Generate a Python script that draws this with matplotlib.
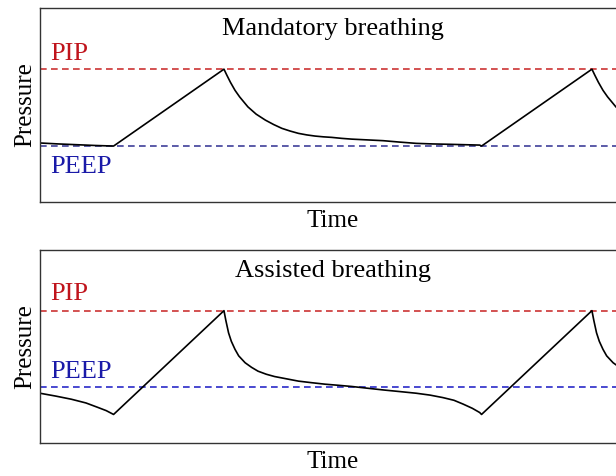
import matplotlib
matplotlib.use("Agg")
import matplotlib.pyplot as plt

plt.rcParams["font.family"] = ["Liberation Serif", "DejaVu Serif"]

# pressure levels
PIP = 25
PEEP = 5

# mandatory breathing waveform (time, pressure)
mand_t = [0.0, 0.2, 0.4, 0.6, 0.8, 2.0, 2.03, 2.07, 2.12, 2.17, 2.26, 2.35,
          2.45, 2.54, 2.63, 2.72, 2.81, 2.9, 2.99, 3.08, 3.17, 3.28, 3.39,
          3.56, 3.73, 3.9, 4.09, 4.27, 4.46, 4.62, 4.78, 4.8,
          6.0, 6.03, 6.07, 6.12, 6.17, 6.26, 6.35, 6.45]
mand_p = [5.8, 5.55, 5.35, 5.15, 5.0, 25.0, 23.5, 21.6, 19.5, 17.8, 15.2, 13.3,
          11.75, 10.6, 9.6, 8.9, 8.3, 7.9, 7.6, 7.4, 7.26, 7.0, 6.8,
          6.6, 6.4, 6.05, 5.7, 5.55, 5.45, 5.35, 5.25, 5.0,
          25.0, 23.5, 21.6, 19.5, 17.8, 15.2, 13.3, 11.75]

# assisted breathing waveform
asst_t = [0.0, 0.17, 0.34, 0.5, 0.63, 0.72, 0.8, 2.0, 2.02, 2.05, 2.08, 2.12,
          2.16, 2.23, 2.30, 2.37, 2.46, 2.55, 2.68, 2.81, 2.95, 3.10, 3.25,
          3.39, 3.56, 3.73, 3.9, 4.09, 4.24, 4.38, 4.50, 4.60, 4.70, 4.78, 4.8,
          6.0, 6.02, 6.05, 6.08, 6.12, 6.16, 6.23, 6.30, 6.37]
asst_p = [3.44, 2.7, 1.88, 0.9, -0.27, -1.1, -2.1, 25.0, 22.5, 19.2, 17.0, 14.9,
          13.2, 11.4, 10.2, 9.2, 8.4, 7.8, 7.2, 6.6, 6.2, 5.8, 5.5,
          5.2, 4.75, 4.3, 3.9, 3.44, 2.95, 2.3, 1.6, 0.6, -0.5, -1.6, -2.1,
          25.0, 22.5, 19.2, 17.0, 14.9, 13.2, 11.4, 10.2, 9.2]

titles = ["Mandatory breathing", "Assisted breathing"]
pip_label_y = [27.3, 27.9]
peep_label_y = [-2.1, 7.5]

fig = plt.figure(figsize=(6.16, 4.76), dpi=100)
ax1 = fig.add_axes([0.0649, 0.5763, 0.9513, 0.4063])
ax2 = fig.add_axes([0.0649, 0.0700, 0.9513, 0.4048])

for i, (ax, t, p) in enumerate([(ax1, mand_t, mand_p), (ax2, asst_t, asst_p)]):
    ax.axhline(PIP, color="#cc3333", lw=1.2, ls=(0, (4, 2.6)))
    ax.axhline(PEEP, color="#2a2ac8" if i else "#40409a", lw=1.2, ls=(0, (4, 2.6)))
    ax.plot(t, p, color="black", lw=1.2, solid_joinstyle="round")
    ax.set_xlim(0, 6.37)
    ax.set_ylim(-9.47, 40.84)
    ax.set_xticks([])
    ax.set_yticks([])
    for s in ax.spines.values():
        s.set_color("#333333")
        s.set_linewidth(1.0)
    ax.text(0.5, 0.892, titles[i], transform=ax.transAxes, ha="center",
            va="center", fontsize=19)
    ax.text(0.11, pip_label_y[i], "PIP", color="#c0141c", fontsize=19,
            va="baseline")
    ax.text(0.11, peep_label_y[i], "PEEP", color="#1a1aa8", fontsize=19,
            va="baseline")
    ax.set_xlabel("Time", fontsize=18, labelpad=6)
    ax.set_ylabel("Pressure", fontsize=18, labelpad=3)

fig.savefig("out.png", dpi=100)
